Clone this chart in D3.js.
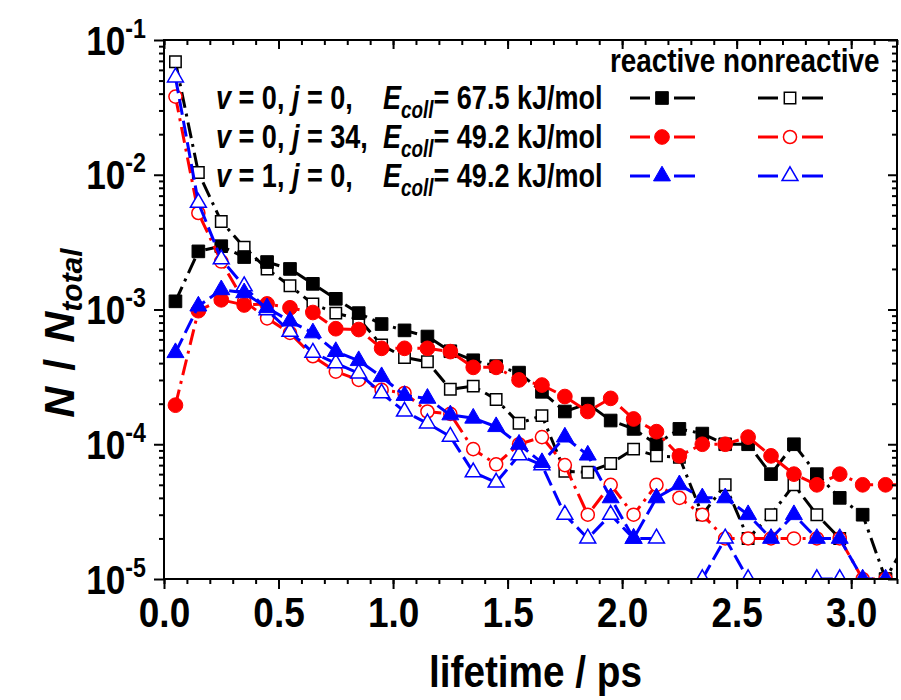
<!DOCTYPE html>
<html>
<head>
  <meta charset="utf-8">
  <title>lifetime distribution</title>
  <script src="https://cdn.jsdelivr.net/npm/d3@7"></script>
  <style>
    body { margin: 0; background: #fff; }
    text { font-family: "Liberation Sans", Arial, sans-serif; font-weight: bold; fill: #000; }
  </style>
</head>
<body>
<div id="chart"></div>
<script type="text/javascript">
// lifetime bins (ps); last bin lies past the right edge and is clipped
var lifetime = [0.05, 0.15, 0.25, 0.35, 0.45, 0.55, 0.65, 0.75, 0.85, 0.95,
  1.05, 1.15, 1.25, 1.35, 1.45, 1.55, 1.65, 1.75, 1.85, 1.95,
  2.05, 2.15, 2.25, 2.35, 2.45, 2.55, 2.65, 2.75, 2.85, 2.95,
  3.05, 3.15, 3.25];

// v=0, j=0, Ecoll=67.5
var reactive00 = [1.15e-3, 2.7e-3, 2.95e-3, 2.45e-3, 2.25e-3, 2.0e-3, 1.55e-3, 1.2e-3, 9.4e-4, 7.8e-4,
  7.0e-4, 6.3e-4, 4.9e-4, 4.2e-4, 3.8e-4, 3.4e-4, 2.45e-4, 1.75e-4, 2.0e-4, 1.5e-4,
  1.3e-4, 1.0e-4, 1.3e-4, 1.2e-4, 1.0e-4, 1.0e-4, 6e-5, 1.0e-4, 6e-5, 4e-5,
  3e-5, 1e-5, 2e-5];
var nonreactive00 = [6.9e-2, 1.04e-2, 4.5e-3, 2.9e-3, 2.0e-3, 1.5e-3, 1.1e-3, 9.4e-4, 8.5e-4, 5.45e-4,
  4.4e-4, 4.1e-4, 2.56e-4, 2.7e-4, 2.15e-4, 1.43e-4, 1.63e-4, 6.3e-5, 6.2e-5, 7.2e-5,
  9.2e-5, 8.2e-5, 8e-5, 3e-5, 5e-5, 2e-5, 3e-5, 5e-5, 3e-5, 2e-5,
  null, null, null];
// v=0, j=34, Ecoll=49.2
var reactive034 = [1.95e-4, 9.8e-4, 1.18e-3, 1.08e-3, 1.1e-3, 1.03e-3, 9.5e-4, 7.2e-4, 7.1e-4, 5.15e-4,
  5.15e-4, 5.15e-4, 4.87e-4, 3.72e-4, 3.72e-4, 3.0e-4, 2.75e-4, 2.26e-4, 1.75e-4, 2.19e-4,
  1.54e-4, 1.24e-4, 8.2e-5, 1.0e-4, 1.0e-4, 1.13e-4, 8.2e-5, 6e-5, 5e-5, 6e-5,
  5e-5, 5e-5, 5e-5];
var nonreactive034 = [3.8e-2, 5.2e-3, 2.27e-3, 1.15e-3, 8.6e-4, 6.7e-4, 4.5e-4, 3.46e-4, 3.0e-4, 2.53e-4,
  2.4e-4, 1.75e-4, 1.68e-4, 9.2e-5, 7.1e-5, 1.0e-4, 1.13e-4, 7e-5, 3e-5, 5e-5,
  3e-5, 5e-5, 4e-5, 3e-5, 2e-5, 2e-5, 2e-5, 2e-5, 2e-5, 2e-5,
  1e-5, 1e-5, null];
// v=1, j=0, Ecoll=49.2
var reactive10 = [4.78e-4, 1.06e-3, 1.4e-3, 1.33e-3, 1.03e-3, 8.2e-4, 6.7e-4, 4.87e-4, 4.17e-4, 3.17e-4,
  2.3e-4, 2.19e-4, 1.65e-4, 1.56e-4, 1.35e-4, 1.0e-4, 7.3e-5, 1.13e-4, 8.3e-5, 4e-5,
  2e-5, 4e-5, 5e-5, 4e-5, 4e-5, 3e-5, 2e-5, 3e-5, 2e-5, 2e-5,
  1e-5, 1e-5, null];
var nonreactive10 = [5.28e-2, 6.2e-3, 2.36e-3, 1.49e-3, 9.9e-4, 6.84e-4, 4.78e-4, 3.99e-4, 3.36e-4, 2.39e-4,
  1.75e-4, 1.43e-4, 1.14e-4, 6.2e-5, 5.2e-5, 8.3e-5, 7e-5, 3e-5, 2e-5, 3e-5,
  2e-5, 2e-5, null, 1e-5, 2e-5, 1e-5, null, null, 1e-5, 1e-5,
  null, null, null];

var xTicks = [0, 0.5, 1.0, 1.5, 2.0, 2.5, 3.0];
var yTicks = [1e-5, 1e-4, 1e-3, 1e-2, 1e-1];
var yExponents = ["-5", "-4", "-3", "-2", "-1"];

var rowLabels = [
  {head: ["v", " = 0, ", "j", " = 0,"], tail: "= 67.5 kJ/mol"},
  {head: ["v", " = 0, ", "j", " = 34,"], tail: "= 49.2 kJ/mol"},
  {head: ["v", " = 1, ", "j", " = 0,"], tail: "= 49.2 kJ/mol"}
];

(function() {
  var SX = 0.82; // the fonts in the original are slightly condensed
  var W = 901, H = 700;
  var pl = 164, pr = 897, pt = 40, pb = 579;

  var svg = d3.select('#chart').append('svg').attr('width', W).attr('height', H);

  var x = d3.scaleLinear().domain([0, 3.2]).range([pl, pr]);
  var y = d3.scaleLog().domain([1e-5, 1e-1]).range([pb, pt]);

  var series = [
    {data: nonreactive00, color: '#000', dash: '16,6,3,6', shape: d3.symbolSquare, size: 130, open: true},
    {data: reactive00, color: '#000', dash: '16,6,3,6', shape: d3.symbolSquare, size: 160, open: false},
    {data: nonreactive034, color: '#ff0000', dash: '16,6,3,6', shape: d3.symbolCircle, size: 135, open: true},
    {data: reactive034, color: '#ff0000', dash: '16,6,3,6', shape: d3.symbolCircle, size: 170, open: false},
    {data: nonreactive10, color: '#0000ff', dash: '16,6', shape: d3.symbolTriangle, size: 110, open: true},
    {data: reactive10, color: '#0000ff', dash: '16,6', shape: d3.symbolTriangle, size: 125, open: false}
  ];

  svg.append('clipPath').attr('id', 'plotclip').append('rect')
    .attr('x', pl).attr('y', pt).attr('width', pr - pl).attr('height', pb - pt);

  var plot = svg.append('g').attr('clip-path', 'url(#plotclip)');

  var line = d3.line()
    .defined(function(d) { return d.v != null; })
    .x(function(d) { return x(d.t); })
    .y(function(d) { return y(d.v); });

  series.forEach(function(s) {
    var pts = lifetime.map(function(t, i) { return {t: t, v: s.data[i]}; });
    plot.append('path').datum(pts)
      .attr('d', line)
      .attr('fill', 'none')
      .attr('stroke', s.color)
      .attr('stroke-width', 3)
      .attr('stroke-dasharray', s.dash);
    plot.selectAll(null).data(pts.filter(function(d) { return d.v != null; })).enter()
      .append('path')
      .attr('transform', function(d) { return 'translate(' + x(d.t) + ',' + y(d.v) + ')'; })
      .attr('d', d3.symbol().type(s.shape).size(s.size))
      .attr('fill', s.open ? '#fff' : s.color)
      .attr('stroke', s.color)
      .attr('stroke-width', s.open ? 1.5 : 1);
  });

  // axes
  var minorX = d3.range(0, 33).map(function(i) { return i / 10; });
  var minorY = [];
  yTicks.slice(0, 4).forEach(function(p) {
    for (var m = 2; m <= 9; m++) minorY.push(p * m);
  });

  function styleAxis(g) {
    g.select('.domain').remove();
    g.selectAll('line').attr('stroke', '#000').attr('stroke-width', 2);
  }

  svg.append('g').attr('transform', 'translate(0,' + pb + ')')
    .call(d3.axisBottom(x).tickValues(minorX).tickSize(5).tickFormat(''))
    .call(styleAxis);
  var xb = svg.append('g').attr('transform', 'translate(0,' + pb + ')')
    .call(d3.axisBottom(x).tickValues(xTicks).tickSize(10).tickFormat(d3.format('.1f')))
    .call(styleAxis);
  xb.selectAll('text')
    .attr('y', 0).attr('dy', 0)
    .attr('transform', 'translate(0,48) scale(0.88,1)')
    .style('font-size', '42px');

  svg.append('g').attr('transform', 'translate(0,' + pt + ')')
    .call(d3.axisTop(x).tickValues(minorX).tickSize(-5).tickFormat(''))
    .call(styleAxis);
  svg.append('g').attr('transform', 'translate(0,' + pt + ')')
    .call(d3.axisTop(x).tickValues(xTicks).tickSize(-9).tickFormat(''))
    .call(styleAxis);

  svg.append('g').attr('transform', 'translate(' + pl + ',0)')
    .call(d3.axisLeft(y).tickValues(minorY).tickSize(5).tickFormat(''))
    .call(styleAxis);
  var yl = svg.append('g').attr('transform', 'translate(' + pl + ',0)')
    .call(d3.axisLeft(y).tickValues(yTicks).tickSize(10).tickFormat(''))
    .call(styleAxis);
  yl.selectAll('.tick').each(function(d, i) {
    var t = d3.select(this).append('g')
      .attr('transform', 'translate(-18,14) scale(0.86,1)')
      .append('text').attr('text-anchor', 'end').style('font-size', '41px');
    t.append('tspan').text('10');
    t.append('tspan').attr('dy', -17).style('font-size', '27px').text(yExponents[i]);
  });

  svg.append('g').attr('transform', 'translate(' + pr + ',0)')
    .call(d3.axisRight(y).tickValues(minorY).tickSize(-5).tickFormat(''))
    .call(styleAxis);
  svg.append('g').attr('transform', 'translate(' + pr + ',0)')
    .call(d3.axisRight(y).tickValues(yTicks).tickSize(-9).tickFormat(''))
    .call(styleAxis);

  svg.append('rect')
    .attr('x', pl).attr('y', pt).attr('width', pr - pl).attr('height', pb - pt)
    .attr('fill', 'none').attr('stroke', '#000').attr('stroke-width', 2);

  // axis titles
  svg.append('g').attr('transform', 'translate(' + ((pl + pr) / 2 + 5) + ',687) scale(0.88,1)')
    .append('text').attr('text-anchor', 'middle').style('font-size', '44px').text('lifetime / ps');

  var yt = svg.append('g').attr('transform', 'translate(74,333) rotate(-90)')
    .append('text').attr('text-anchor', 'middle').style('font-size', '43px')
    .attr('xml:space', 'preserve');
  yt.append('tspan').style('font-style', 'italic').text('N');
  yt.append('tspan').attr('dx', 4).text(' / ');
  yt.append('tspan').attr('dx', 4).style('font-style', 'italic').text('N');
  yt.append('tspan').attr('dy', 8).style('font-size', '30px').style('font-style', 'italic').text('total');

  // legend
  svg.append('g').attr('transform', 'translate(610,72) scale(' + SX + ',1)')
    .append('text').style('font-size', '34px').text('reactive nonreactive');

  var rowY = [98, 137, 176];
  var legendPairs = [[1, 0], [3, 2], [5, 4]];
  rowLabels.forEach(function(r, i) {
    var cy = rowY[i];
    var t1 = svg.append('g').attr('transform', 'translate(216,' + (cy + 11) + ') scale(' + SX + ',1)')
      .append('text').style('font-size', '33px').attr('xml:space', 'preserve');
    r.head.forEach(function(part, j) {
      var ts = t1.append('tspan').text(part);
      if (j % 2 === 0) ts.style('font-style', 'italic');
    });
    var t2 = svg.append('g').attr('transform', 'translate(383,' + (cy + 11) + ') scale(' + SX + ',1)')
      .append('text').style('font-size', '33px');
    t2.append('tspan').style('font-style', 'italic').text('E');
    t2.append('tspan').attr('dy', 9).style('font-size', '23px').style('font-style', 'italic').text('coll');
    t2.append('tspan').attr('dy', -9).text(r.tail);

    [[630, legendPairs[i][0]], [758, legendPairs[i][1]]].forEach(function(p) {
      var s = series[p[1]];
      var x0 = p[0];
      var g = svg.append('g');
      g.append('line').attr('x1', x0).attr('x2', x0 + 20).attr('y1', cy).attr('y2', cy)
        .attr('stroke', s.color).attr('stroke-width', 3);
      g.append('line').attr('x1', x0 + 44).attr('x2', x0 + 65).attr('y1', cy).attr('y2', cy)
        .attr('stroke', s.color).attr('stroke-width', 3);
      g.append('path').attr('transform', 'translate(' + (x0 + 32) + ',' + cy + ')')
        .attr('d', d3.symbol().type(s.shape).size(s.size))
        .attr('fill', s.open ? '#fff' : s.color)
        .attr('stroke', s.color).attr('stroke-width', s.open ? 1.5 : 1);
    });
  });
})();
</script>
</body>
</html>
